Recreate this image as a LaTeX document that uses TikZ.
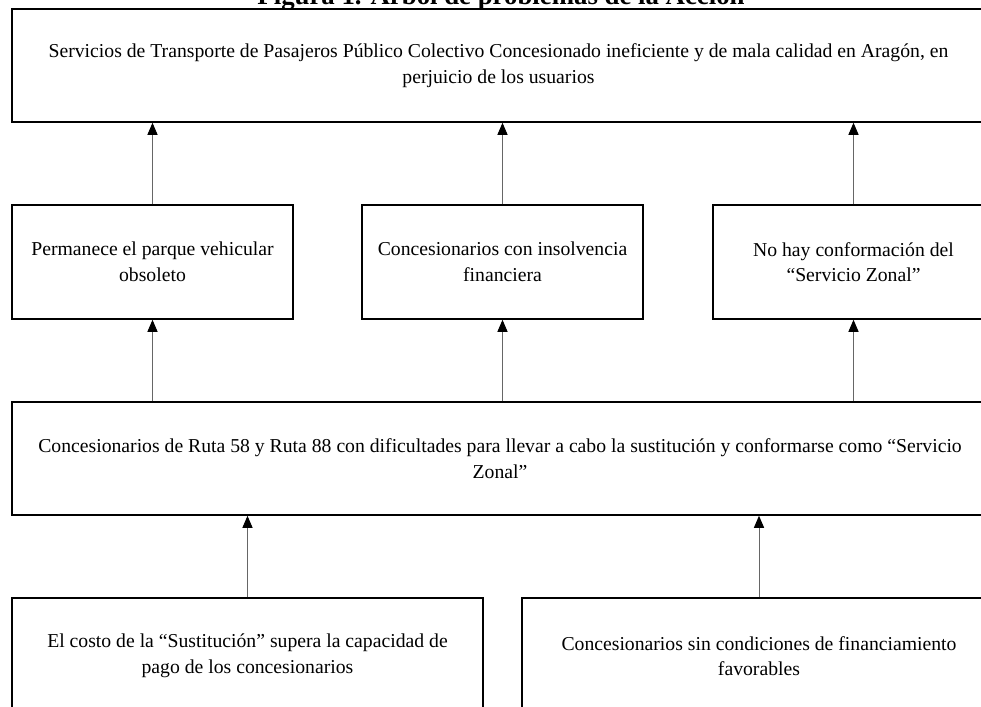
\documentclass[tikz,border=0pt]{standalone}
\usepackage{fontspec}
\setmainfont{Liberation Serif}
\usetikzlibrary{arrows.meta}

\begin{document}
\begin{tikzpicture}[x=1pt, y=-1pt,
    font=\fontsize{19.7}{25.5}\selectfont,
    caja/.style={draw, line width=1.5pt, align=center, inner sep=0pt},
    flecha/.style={-{Triangle[width=10pt,length=12pt,color=black]}, black!60, line width=1pt}]

  \useasboundingbox (0,0) rectangle (981,706);

  % titulo, cortado por arriba
  \node[anchor=base, font=\fontsize{26.8}{30}\selectfont\bfseries] (titulo) at (501,4.5)
    {Figura 1. Árbol de problemas de la Acción};

  % efecto
  \node[caja, minimum width=973pt, minimum height=113pt] (efecto) at (498.5,65.5)
    {Servicios de Transporte de Pasajeros Público Colectivo Concesionado ineficiente y de mala calidad en Aragón, en\\
     perjuicio de los usuarios};

  % efectos intermedios
  \begin{scope}[every node/.style={caja, minimum width=281pt, minimum height=114pt}]
    \node (parque) at (152.5,262) {Permanece el parque vehicular\\ obsoleto};
    \node (insolv) at (502.5,262) {Concesionarios con insolvencia\\ financiera};
    \node (zonal)  at (853.5,262) {No hay conformación del\\ “Servicio Zonal”};
  \end{scope}

  % problema central
  \node[caja, minimum width=976pt, minimum height=113pt] (central) at (500,458.5)
    {Concesionarios de Ruta 58 y Ruta 88 con dificultades para llevar a cabo la sustitución y conformarse como “Servicio\\
     Zonal”};

  % causas
  \begin{scope}[every node/.style={caja, minimum height=116pt}]
    \node[minimum width=471pt] (costo) at (247.5,656)
      {El costo de la “Sustitución” supera la capacidad de\\ pago de los concesionarios};
    \node[minimum width=474pt] (financ) at (759,656)
      {Concesionarios sin condiciones de financiamiento\\ favorables};
  \end{scope}

  \foreach \n in {parque,insolv,zonal}{
    \draw[flecha] (\n) -- (\n |- efecto.south);
    \draw[flecha] (central.north -| \n) -- (\n);
  }

  \foreach \n in {costo,financ}
    \draw[flecha] (\n) -- (\n |- central.south);
\end{tikzpicture}
\end{document}
